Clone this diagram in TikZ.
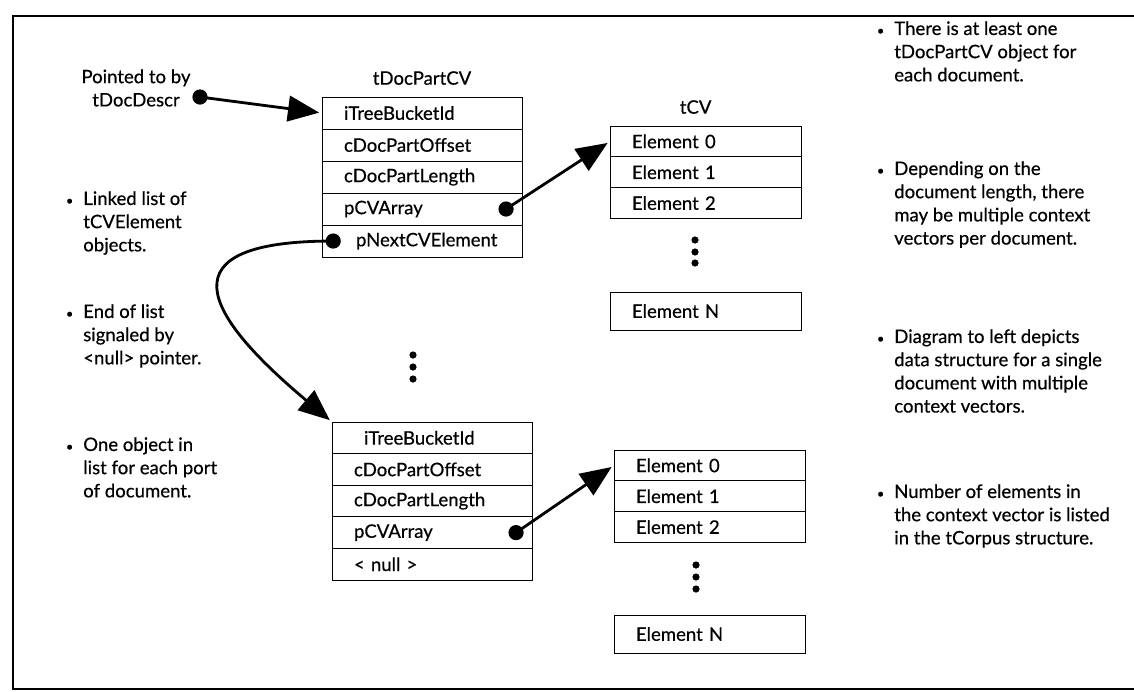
\documentclass[tikz,border=0pt]{standalone}
\usepackage{fontspec}
\setmainfont{Lato}[FakeBold=0.5]
\usetikzlibrary{positioning,arrows.meta}
\hyphenpenalty=10000

\begin{document}
\begin{tikzpicture}[x=0.025cm, y=-0.025cm,
    font=\fontsize{13.2pt}{16.5pt}\selectfont,
    field/.style={draw, line width=0.6pt, outer sep=0pt, text width=3.9cm,
      inner xsep=0.55cm, inner ysep=0pt, minimum height=0.8cm, align=left},
    elem/.style={field, text width=3.68cm, minimum height=0.77cm},
    ptr/.style={circle, fill, inner sep=0pt, minimum size=0.38cm},
    link/.style={line width=2pt, shorten >=2pt, -{Triangle[length=0.78cm, width=0.64cm]}},
    note/.style={align=left, anchor=north west, inner sep=0pt},
    frame/.style={line width=2pt}]
  \useasboundingbox (0,0) rectangle (1134,692);
  \draw[frame] (1140,16) -- (13,16) -- (13,689) -- (1140,689);

  % first tDocPartCV
  \node[field, anchor=north west] (a1) at (322,97) {iTreeBucketId};
  \node[field, below=0pt of a1] (a2) {cDocPartOffset};
  \node[field, below=0pt of a2] (a3) {cDocPartLength};
  \node[field, below=0pt of a3] (a4) {pCVArray};
  \node[field, below=0pt of a4] (a5) {\hspace*{0.3cm}pNextCVElement};
  \node[above=0.18cm of a1] (atitle) {tDocPartCV};

  % its tCV
  \node[elem, anchor=north west] (v0) at (610,126) {Element 0};
  \node[elem, below=0pt of v0] (v1) {Element 1};
  \node[elem, below=0pt of v1] (v2) {Element 2};
  \node[elem, anchor=north west, minimum height=0.95cm] (vn) at (610,292) {Element N};
  \node[above=0.18cm of v0, xshift=-0.25cm] (vtitle) {tCV};
  \foreach \y in {240,252,263} \fill (695,\y) circle (0.09cm);

  % last tDocPartCV
  \node[field, anchor=north west, minimum height=0.79cm] (b1) at (332,422) {\hspace*{0.25cm}iTreeBucketId};
  \node[field, below=0pt of b1, minimum height=0.79cm] (b2) {cDocPartOffset};
  \node[field, below=0pt of b2, minimum height=0.79cm] (b3) {cDocPartLength};
  \node[field, below=0pt of b3, minimum height=0.79cm] (b4) {pCVArray};
  \node[field, below=0pt of b4, minimum height=0.79cm] (b5) {< null >};
  \foreach \y in {355,367,379} \fill (413,\y) circle (0.09cm);

  % its tCV
  \node[elem, anchor=north west] (w0) at (614,450) {Element 0};
  \node[elem, below=0pt of w0] (w1) {Element 1};
  \node[elem, below=0pt of w1] (w2) {Element 2};
  \node[elem, anchor=north west, minimum height=0.95cm] (wn) at (614,615) {Element N};
  \foreach \y in {565,577,589} \fill (696,\y) circle (0.09cm);

  % pointers
  \node[align=center] (src) at (136,88) {Pointed to by\\tDocDescr};
  \node[ptr] (d0) at (200,97) {};
  \node[ptr] (p1) at ([xshift=-0.4cm]a4.east) {};
  \node[ptr] (p2) at ([xshift=0.28cm]a5.west) {};
  \node[ptr] (p3) at ([xshift=-0.4cm]b4.east) {};
  \draw[link] (d0.center) -- (a1.west);
  \draw[link] (p1.center) -- (v0.west);
  \draw[link] (p2.center) to[out=180, in=140, looseness=2.4] (b1.north west);
  \draw[link] (p3.center) -- (w0.west);

  % notes on the left
  \node[note] (n1) at (83,191) {\llap{\small\textbullet\hspace{0.25cm}}Linked list of\\tCVElement\\objects.};
  \node[note] (n2) at (83,304) {\llap{\small\textbullet\hspace{0.25cm}}End of list\\signaled by\\<null> pointer.};
  \node[note] (n3) at (83,437) {\llap{\small\textbullet\hspace{0.25cm}}One object in\\list for each port\\of document.};

  % notes on the right
  \node[note] (m1) at (894,21) {\llap{\small\textbullet\hspace{0.25cm}}There is at least one\\tDocPartCV object for\\each document.};
  \node[note] (m2) at (894,161) {\llap{\small\textbullet\hspace{0.25cm}}Depending on the\\document length, there\\may be multiple context\\vectors per document.};
  \node[note] (m3) at (894,329) {\llap{\small\textbullet\hspace{0.25cm}}Diagram to left depicts\\data structure for a single\\document with multiple\\context vectors.};
  \node[note] (m4) at (894,484) {\llap{\small\textbullet\hspace{0.25cm}}Number of elements in\\the context vector is listed\\in the tCorpus structure.};
\end{tikzpicture}
\end{document}
